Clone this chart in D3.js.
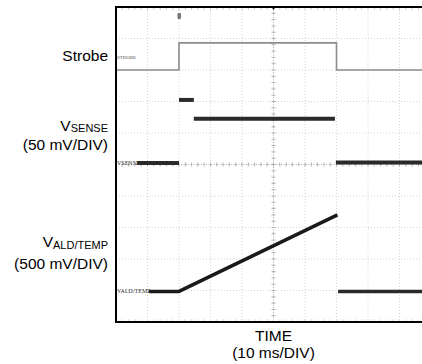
<!DOCTYPE html>
<html><head><meta charset="utf-8">
<script src="https://cdn.jsdelivr.net/npm/d3@7"></script>
<style>html,body{margin:0;padding:0;background:#fff;}svg{display:block;}</style>
</head><body><div id="chart"></div>
<script>
// ---- data (time in ms, levels in graticule divisions from screen centre) ----
const timeDomain = [-50, 50];          // 10 ms/DIV, 10 divisions
const levelDomain = [-5, 5];           // 10 vertical divisions
const gridTimes = [-40, -30, -20, -10, 10, 20, 30, 40];
const gridLevels = [-4, -3, -2, -1, 1, 2, 3, 4];

// Strobe (polyline with edges)
const strobeT = [-50, -30, -30, 20, 20, 50];
const strobeV = [3.0, 3.0, 3.86, 3.86, 3.0, 3.0];

// VSENSE segments (no visible edges)
const senseT0 = [-43.3, -30, -25.3, 19.8];
const senseT1 = [-30, -25.3, 19.5, 50];
const senseV  = [0.05, 2.05, 1.45, 0.06];

// VALD/TEMP (ramp during strobe)
const aldT = [-39.5, -30, 20.3];
const aldV = [-4.03, -4.03, -1.6];
const aldAfterT = [20.5, 50];
const aldAfterV = [-4.03, -4.03];

const W = 422, H = 364;
const svg = d3.select('#chart').append('svg').attr('width', W).attr('height', H)
  .style('font-family', 'Liberation Sans, Arial, Helvetica, sans-serif');

const x = d3.scaleLinear().domain(timeDomain).range([116, 431]);
const y = d3.scaleLinear().domain(levelDomain).range([322, 7]);

const g = svg.append('g');

// faint grid
g.selectAll('.vg').data(gridTimes).join('line')
  .attr('x1', d => x(d)).attr('x2', d => x(d)).attr('y1', y(5)).attr('y2', y(-5))
  .attr('stroke', '#d4d4d4').attr('stroke-width', 1).attr('stroke-dasharray', '1,2');
g.selectAll('.hg').data(gridLevels).join('line')
  .attr('y1', d => y(d)).attr('y2', d => y(d)).attr('x1', x(-50)).attr('x2', x(50))
  .attr('stroke', '#d4d4d4').attr('stroke-width', 1).attr('stroke-dasharray', '1,2');

// centre axes with minor ticks
g.append('line').attr('x1', x(0)).attr('x2', x(0)).attr('y1', y(5)).attr('y2', y(-5))
  .attr('stroke', '#aaa').attr('stroke-width', 1).attr('stroke-dasharray', '1,1.5');
g.append('line').attr('y1', y(0)).attr('y2', y(0)).attr('x1', x(-50)).attr('x2', x(50))
  .attr('stroke', '#aaa').attr('stroke-width', 1).attr('stroke-dasharray', '1,1.5');
const minorL = d3.range(-4.8, 5, 0.2);
const minorT = d3.range(-48, 50, 2);
g.selectAll('.mt1').data(minorL).join('line')
  .attr('x1', x(0) - 2).attr('x2', x(0) + 2).attr('y1', d => y(d)).attr('y2', d => y(d))
  .attr('stroke', '#b0b0b0').attr('stroke-width', 1);
g.selectAll('.mt2').data(minorT).join('line')
  .attr('y1', y(0) - 2).attr('y2', y(0) + 2).attr('x1', d => x(d)).attr('x2', d => x(d))
  .attr('stroke', '#b0b0b0').attr('stroke-width', 1);
// minor ticks along top border
g.selectAll('.mt3').data(minorT).join('line')
  .attr('y1', y(5)).attr('y2', y(5) + 3).attr('x1', d => x(d)).attr('x2', d => x(d))
  .attr('stroke', '#ccc').attr('stroke-width', 1);
g.selectAll('.mt4').data(minorT).join('line')
  .attr('y1', y(-5)).attr('y2', y(-5) - 3).attr('x1', d => x(d)).attr('x2', d => x(d))
  .attr('stroke', '#ddd').attr('stroke-width', 1);

// strobe trace
const line = d3.line().x(d => x(d[0])).y(d => y(d[1]));
g.append('path').datum(d3.zip(strobeT, strobeV)).attr('d', line)
  .attr('fill', 'none').attr('stroke', '#8c8c8c').attr('stroke-width', 1.6);

// VSENSE segments
g.selectAll('.sense').data(d3.range(senseV.length)).join('line')
  .attr('x1', i => x(senseT0[i])).attr('x2', i => x(senseT1[i]))
  .attr('y1', i => y(senseV[i])).attr('y2', i => y(senseV[i]))
  .attr('stroke', '#2a2a2a').attr('stroke-width', 4);

// VALD/TEMP
g.append('path').datum(d3.zip(aldT, aldV)).attr('d', line)
  .attr('fill', 'none').attr('stroke', '#1a1a1a').attr('stroke-width', 3.5).attr('stroke-linejoin', 'round');
g.append('path').datum(d3.zip(aldAfterT, aldAfterV)).attr('d', line)
  .attr('fill', 'none').attr('stroke', '#2a2a2a').attr('stroke-width', 3.5);

// frame
g.append('rect').attr('x', x(-50)).attr('y', y(5)).attr('width', x(50) - x(-50)).attr('height', y(-5) - y(5))
  .attr('fill', 'none').attr('stroke', '#000').attr('stroke-width', 2);

// markers
g.append('rect').attr('x', x(-30) - 1.5).attr('y', 13).attr('width', 3.5).attr('height', 6).attr('rx', 1)
  .attr('fill', '#777');
g.append('path').attr('d', `M${x(0) - 2},${y(5)} L${x(0) + 2},${y(5)} L${x(0)},${y(5) + 3} Z`).attr('fill', '#000');

// in-plot channel tags
g.append('text').attr('x', 117).attr('y', y(3.0) - 11).attr('font-size', 5).attr('fill', '#555')
  .attr('font-family', 'Liberation Serif, serif').text('STROBE');
g.append('text').attr('x', 117).attr('y', y(0.05) + 2).attr('font-size', 6).attr('fill', '#333')
  .attr('font-family', 'Liberation Serif, serif').text('VSENSE');
g.append('text').attr('x', 117).attr('y', y(-4.03) + 2).attr('font-size', 6).attr('fill', '#333')
  .attr('font-family', 'Liberation Serif, serif').text('VALD/TEMP');

// left labels
const fs = 15.5, subFs = 11;
svg.append('text').attr('x', 108).attr('y', 60.5).attr('text-anchor', 'end').attr('font-size', fs).text('Strobe');
const t1 = svg.append('text').attr('x', 108).attr('y', 131).attr('text-anchor', 'end').attr('font-size', fs);
t1.append('tspan').text('V');
t1.append('tspan').attr('font-size', subFs).attr('dy', 1).text('SENSE');
svg.append('text').attr('x', 108).attr('y', 150).attr('text-anchor', 'end').attr('font-size', fs).text('(50 mV/DIV)');
const t2 = svg.append('text').attr('x', 108).attr('y', 247).attr('text-anchor', 'end').attr('font-size', fs);
t2.append('tspan').text('V');
t2.append('tspan').attr('font-size', subFs).attr('dy', 1.5).text('ALD/TEMP');
svg.append('text').attr('x', 108).attr('y', 269).attr('text-anchor', 'end').attr('font-size', fs).text('(500 mV/DIV)');

// bottom label
svg.append('text').attr('x', x(0)).attr('y', 341).attr('text-anchor', 'middle').attr('font-size', fs).text('TIME');
svg.append('text').attr('x', x(0)).attr('y', 358).attr('text-anchor', 'middle').attr('font-size', fs).text('(10 ms/DIV)');
</script></body></html>
